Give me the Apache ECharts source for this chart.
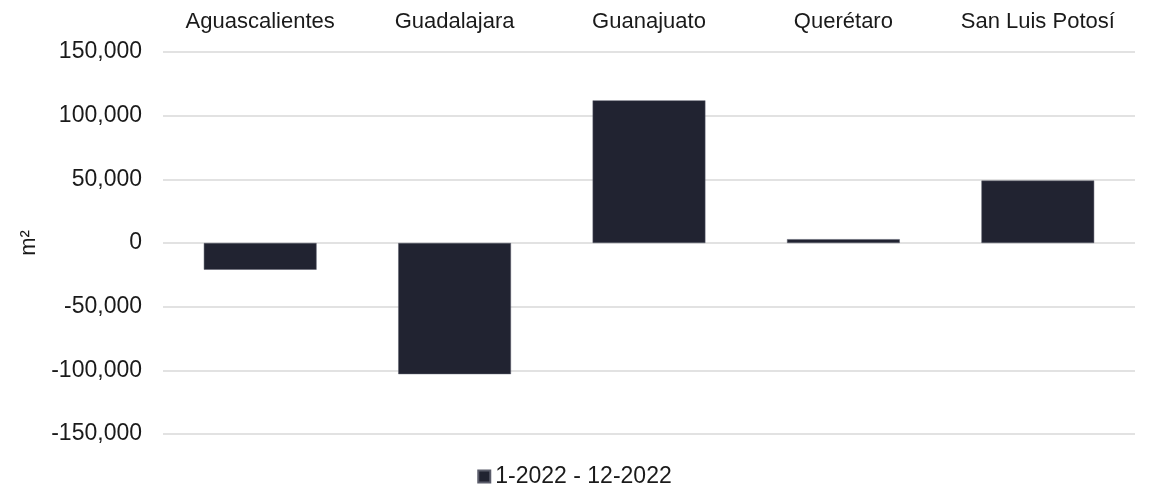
<!DOCTYPE html>
<html>
<head>
<meta charset="utf-8">
<script src="https://cdn.jsdelivr.net/npm/echarts@6/dist/echarts.min.js"></script>
<title>m2</title>
<style>
html, body { margin: 0; padding: 0; background: #fff; }
#main { width: 1149px; height: 495px; }
</style>
</head>
<body>
<div id="main"></div>
<script type="text/javascript">
// datos
var categories = ['Aguascalientes', 'Guadalajara', 'Guanajuato', 'Querétaro', 'San Luis Potosí'];
var values = [-21000, -103000, 112000, 3000, 49000];
var seriesName = '1-2022 - 12-2022';
var yMin = -150000, yMax = 150000, yStep = 50000;

var font = 'Liberation Sans, Arial, sans-serif';

var myChart = echarts.init(document.getElementById('main'));
myChart.setOption({
	animation: false,
	textStyle: { fontFamily: font },
	grid: { left: 163, right: 14, top: 52, bottom: 61 },
	legend: {
		bottom: 2,
		left: 'center',
		data: [seriesName],
		icon: 'rect',
		itemWidth: 12,
		itemHeight: 12,
		itemGap: 8,
		textStyle: { fontFamily: font, fontSize: 23, color: '#1a1a1a' }
	},
	xAxis: {
		type: 'category',
		position: 'top',
		data: categories,
		axisLine: { show: false },
		axisTick: { show: false },
		axisLabel: {
			interval: 0, hideOverlap: false,
			fontFamily: font, fontSize: 22, color: '#1a1a1a', margin: 19
		}
	},
	yAxis: {
		type: 'value',
		min: yMin,
		max: yMax,
		interval: yStep,
		name: 'm²',
		nameLocation: 'middle',
		nameGap: 123,
		nameTextStyle: { fontFamily: font, fontSize: 22, color: '#1a1a1a' },
		axisLine: { show: false },
		axisTick: { show: false },
		splitLine: { lineStyle: { color: '#d9d9d9', width: 1.5 } },
		axisLabel: {
			fontFamily: font, fontSize: 23, color: '#1a1a1a', margin: 21,
			formatter: function (v) { return v.toLocaleString('en-US'); }
		}
	},
	series: [{
		name: seriesName,
		type: 'bar',
		data: values,
		barWidth: '58%',
		itemStyle: { color: '#212331', borderColor: '#5a5c6a', borderWidth: 0.5 }
	}]
});
</script>
</body>
</html>
